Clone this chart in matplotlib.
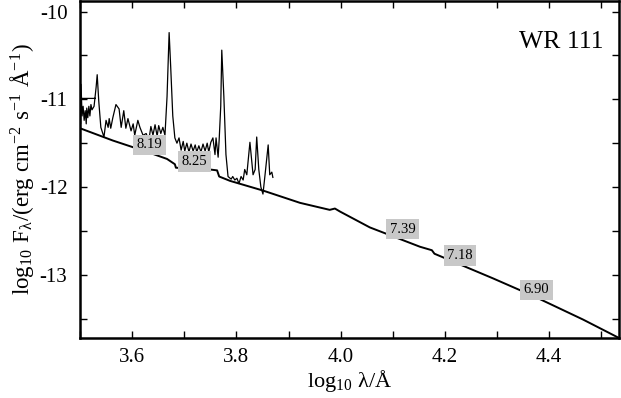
"""WR 111: observed spectrum against the model continuum"""
import matplotlib
matplotlib.use("Agg")
import matplotlib.pyplot as plt
from matplotlib.ticker import MultipleLocator

plt.rcParams["font.family"] = ["Liberation Serif", "DejaVu Serif"]
plt.rcParams["mathtext.fontset"] = "stix"
plt.rcParams["axes.unicode_minus"] = False

# observed spectrum (log10 lambda, log10 F_lambda)
spec_x = [3.529, 3.500, 3.501, 3.502, 3.504, 3.506, 3.508, 3.510, 3.512, 3.513,
          3.515, 3.517, 3.519, 3.521, 3.523, 3.527, 3.531, 3.533, 3.536, 3.540,
          3.546, 3.550, 3.554, 3.556, 3.559, 3.563, 3.569, 3.575, 3.579, 3.584,
          3.588, 3.592, 3.598, 3.602, 3.605, 3.611, 3.615, 3.621, 3.627, 3.632,
          3.636, 3.640, 3.644, 3.648, 3.651, 3.655, 3.659, 3.663, 3.667, 3.671,
          3.674, 3.678, 3.682, 3.686, 3.690, 3.694, 3.698, 3.701, 3.705, 3.709,
          3.713, 3.717, 3.721, 3.724, 3.728, 3.732, 3.736, 3.740, 3.744, 3.747,
          3.751, 3.755, 3.759, 3.761, 3.765, 3.767, 3.770, 3.772, 3.776, 3.780,
          3.784, 3.790, 3.793, 3.797, 3.801, 3.805, 3.809, 3.813, 3.816, 3.820,
          3.826, 3.832, 3.836, 3.839, 3.843, 3.847, 3.851, 3.855, 3.861, 3.864,
          3.868, 3.870]
spec_y = [-10.99, -10.99, -11.28, -10.83, -11.19, -11.08, -11.24, -11.13, -11.28, -11.10,
          -11.21, -11.08, -11.19, -11.06, -11.12, -11.08, -10.86, -10.72, -11.02, -11.32,
          -11.43, -11.24, -11.32, -11.22, -11.33, -11.21, -11.06, -11.11, -11.32, -11.13,
          -11.33, -11.22, -11.36, -11.28, -11.41, -11.24, -11.32, -11.41, -11.39, -11.47,
          -11.31, -11.41, -11.29, -11.42, -11.30, -11.39, -11.32, -11.41, -10.97, -10.24,
          -10.63, -11.19, -11.44, -11.50, -11.44, -11.58, -11.48, -11.59, -11.50, -11.60,
          -11.51, -11.59, -11.52, -11.60, -11.53, -11.60, -11.51, -11.59, -11.50, -11.60,
          -11.49, -11.44, -11.63, -11.44, -11.66, -11.46, -11.08, -10.44, -10.97, -11.63,
          -11.88, -11.91, -11.88, -11.92, -11.90, -11.96, -11.88, -11.92, -11.80, -11.86,
          -11.49, -11.86, -11.80, -11.43, -11.80, -12.00, -12.08, -11.86, -11.52, -11.86,
          -11.83, -11.89]

# model continuum
cont_x = [3.500, 3.563, 3.634, 3.667, 3.682, 3.684, 3.749, 3.763, 3.767, 3.788,
          3.851, 3.922, 3.979, 3.989, 3.999, 4.056, 4.152, 4.175, 4.180, 4.292,
          4.369, 4.465, 4.534]
cont_y = [-11.33, -11.47, -11.61, -11.68, -11.74, -11.78, -11.80, -11.81, -11.88, -11.93,
          -12.04, -12.18, -12.26, -12.245, -12.28, -12.46, -12.68, -12.72, -12.76, -13.04,
          -13.24, -13.51, -13.72]

# temperature labels along the continuum
lab_x = [3.634, 3.719, 4.119, 4.229, 4.376]
lab_y = [-11.52, -11.71, -12.48, -12.78, -13.17]
lab_text = ["8.19", "8.25", "7.39", "7.18", "6.90"]

fig = plt.figure(figsize=(6.21, 3.98), dpi=100)
ax = fig.add_axes([0.1288, 0.1508, 0.868, 0.8467])

ax.plot(spec_x, spec_y, color="black", lw=0.9)
ax.plot(cont_x, cont_y, color="black", lw=1.4)

for x, y, t in zip(lab_x, lab_y, lab_text):
    ax.text(x, y, t, fontsize=10.5, ha="center", va="center",
            bbox=dict(boxstyle="square,pad=0.25", fc="#c8c8c8", ec="none"))

ax.text(0.972, 0.878, "WR 111", transform=ax.transAxes, fontsize=18.5,
        ha="right", va="center")

ax.set_xlim(3.5, 4.534)
ax.set_ylim(-13.72, -9.88)
ax.xaxis.set_major_locator(MultipleLocator(0.2))
ax.xaxis.set_minor_locator(MultipleLocator(0.1))
ax.yaxis.set_major_locator(MultipleLocator(1))
ax.yaxis.set_minor_locator(MultipleLocator(0.5))
ax.xaxis.set_major_formatter(plt.FuncFormatter(lambda v, p: f"{v:.1f}"))
ax.yaxis.set_major_formatter(plt.FuncFormatter(lambda v, p: f"-{abs(v):.0f}"))
ax.tick_params(which="both", direction="in", top=True, right=True,
               length=5, width=1, labelsize=15)
ax.tick_params(axis="x", pad=7)
ax.tick_params(axis="y", pad=9)
for s in ax.spines.values():
    s.set_linewidth(1.8)

ax.set_xlabel(r"log$_\mathregular{10}$ λ/Å", fontsize=16, labelpad=1)
ax.set_ylabel(r"log$_\mathregular{10}$ F$_\mathregular{λ}$/(erg cm$^\mathregular{-2}$"
              r" s$^\mathregular{-1}$ Å$^\mathregular{-1}$)",
              fontsize=16.5, labelpad=3)

fig.savefig("out.png", dpi=100)
